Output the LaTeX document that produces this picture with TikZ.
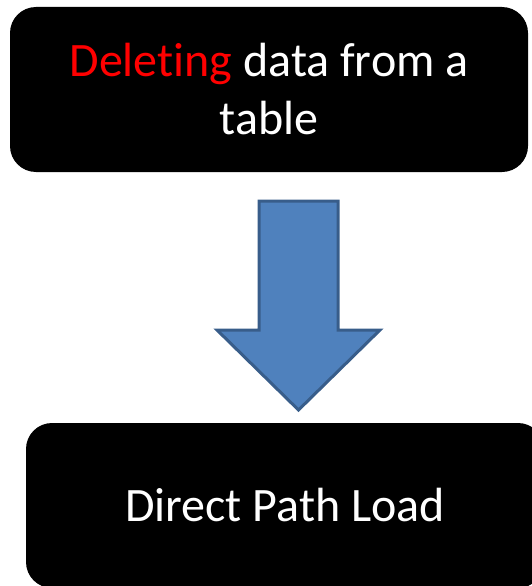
\documentclass[tikz,border=0pt]{standalone}
\usepackage{fontspec}
\setmainfont{Carlito}[Ligatures=NoCommon]
\usepackage{xcolor}
\usepackage{tikz}
\usetikzlibrary{arrows.meta,positioning}

\definecolor{flowfill}{HTML}{4F81BD}
\definecolor{flowline}{HTML}{385D8A}

\begin{document}
\begin{tikzpicture}[
  x=1pt, y=-1pt,
  stage/.style={fill=black, rounded corners=26pt,
                minimum height=165pt, minimum width=518pt,
                text=white, align=center,
                font=\fontsize{48}{58}\selectfont},
  flow/.style={draw=flowline, fill=flowfill,
               line width=3pt, line join=miter}
]
  \useasboundingbox (0,0) rectangle (532,586);

  \node[stage] (del) at (269,89.5)
    {\textcolor{red}{Deleting} data from a\\table};
  \node[stage] (dpl) at (285,505.5) {Direct Path Load};

  % block arrow between the two stages
  \draw[flow] (259,201) -- (338,201) -- (338,330) -- (380,330)
    -- (298.5,410) -- (217,330) -- (259,330) -- cycle;
\end{tikzpicture}
\end{document}
